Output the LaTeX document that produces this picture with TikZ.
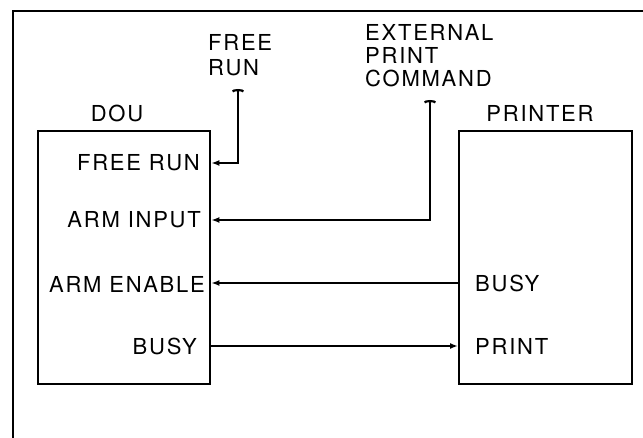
\documentclass[tikz,border=0pt]{standalone}
\usepackage{fontspec}
\setmainfont{TeX Gyre Heros}[LetterSpace=8]
\usetikzlibrary{arrows.meta}
\begin{document}
\begin{tikzpicture}[x=1pt,y=-1pt,
  frame/.style={line width=2.4pt},
  blockbox/.style={draw,line width=2.4pt,minimum width=172pt,minimum height=253pt,inner sep=0pt,anchor=north west},
  lbl/.style={font=\fontsize{22}{24}\selectfont,inner sep=0pt},
  wire/.style={line width=2.2pt},
  tip/.style={-{Latex[length=8pt,width=6pt]}},
  capped/.style={{Arc Barb[width=13pt,length=2.5pt,line width=2.2pt]}-{Latex[length=8pt,width=6pt]}}
]
\useasboundingbox (0,0) rectangle (643,438);
% outer frame (left and top only)
\draw[frame] (13,438) -- (13,11) -- (643,11);
% blocks
\node[blockbox] (dou) at (37,130) {};
\node[blockbox,minimum width=173pt] (printer) at (458,130) {};
% titles
\node[lbl] (doutitle) at (117,113) {DOU};
\node[lbl] (prtitle) at (540,113) {PRINTER};
% DOU labels
\node[lbl,anchor=east] (freerun) at (200,163) {FREE RUN};
\node[lbl,anchor=east] (arminput) at (201,220) {ARM INPUT};
\node[lbl,anchor=east] (armenable) at (205,284) {ARM ENABLE};
\node[lbl,anchor=east] (dbusy) at (197,346) {BUSY};
% printer labels
\node[lbl,anchor=west] (pbusy) at (475,283) {BUSY};
\node[lbl,anchor=west] (pprint) at (475,346) {PRINT};
% external labels
\node[lbl,anchor=west] (fr1) at (208,42) {FREE};
\node[lbl,anchor=west] (fr2) at (208,68) {RUN};
\node[lbl,anchor=west] (ex1) at (365,32) {EXTERNAL};
\node[lbl,anchor=west] (ex2) at (365,55) {PRINT};
\node[lbl,anchor=west] (ex3) at (365,78) {COMMAND};
% free ends
\coordinate (frcap) at (238,89);
\coordinate (excap) at (430,100);
% connectors
\draw[wire,capped] (frcap) -- (frcap |- freerun) -- (dou.east |- freerun);
\draw[wire,capped] (excap) -- (excap |- arminput) -- (dou.east |- arminput);
\draw[wire,tip] (printer.west |- pbusy) -- (dou.east |- pbusy);
\draw[wire,tip] (dou.east |- pprint.west) -- (printer.west |- pprint.west);
\end{tikzpicture}
\end{document}
